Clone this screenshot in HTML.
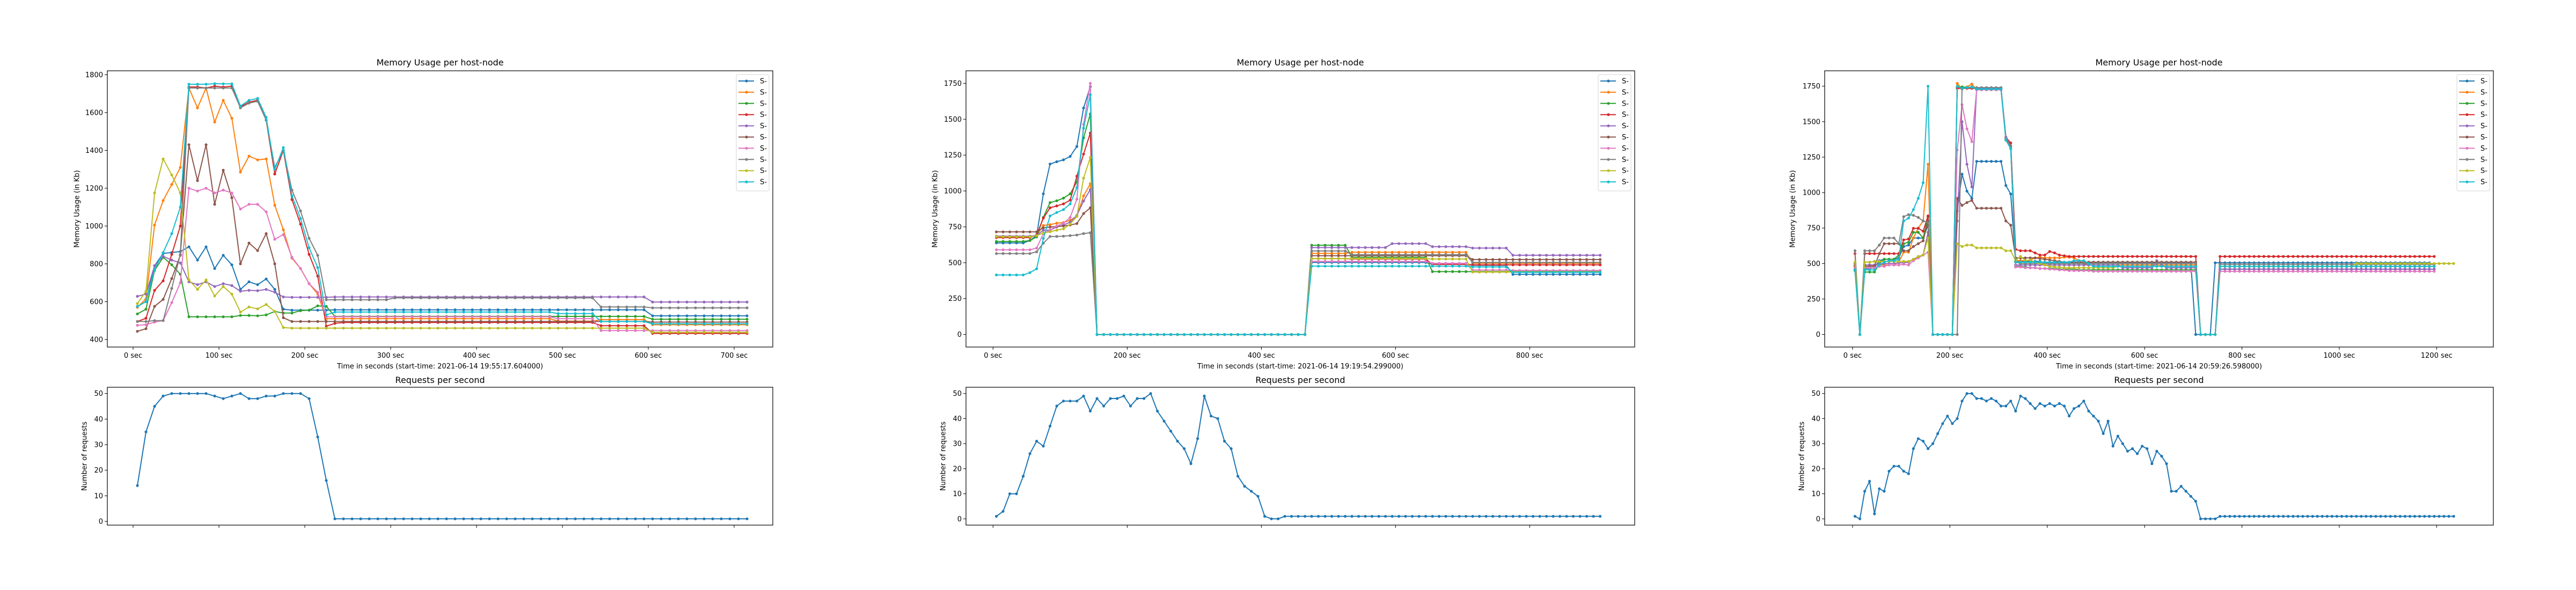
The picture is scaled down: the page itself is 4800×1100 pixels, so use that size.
<!DOCTYPE html>
<html><head><meta charset="utf-8">
<style>
html,body{margin:0;padding:0;background:#fff;}
svg{display:block;font-family:"DejaVu Sans","Liberation Sans",sans-serif;}
</style></head>
<body>
<svg id="fig" width="4800" height="1100" viewBox="0 0 4800 1100" xmlns="http://www.w3.org/2000/svg">
<rect x="0" y="0" width="4800" height="1100" fill="#fff"/>
</svg>
<script>
// ---------- Run 1 data (t = 5, 15, 25 ... sec) ----------
const mem1_s1=[575,600,790,855,860,865,890,820,890,775,845,795,665,705,690,720,665,560,555,555,555,555,555,557,557,557,557,557,557,557,557,557,557,557,557,557,557,557,557,557,557,557,557,557,557,557,557,557,557,557,557,557,557,557,557,557,557,557,557,557,525,525,525,525,525,525,525,525,525,525,525,525];
const mem1_s2=[570,615,1005,1135,1220,1310,1730,1625,1730,1550,1665,1570,1285,1370,1350,1355,1110,980,830,775,695,640,510,510,510,510,510,510,510,510,510,510,510,510,510,510,510,510,510,510,510,510,510,510,510,510,510,510,510,497,497,497,497,497,505,505,505,505,505,505,478,478,478,478,478,478,478,478,478,478,478,478];
const mem1_s3=[535,560,765,835,795,745,520,520,520,520,520,520,527,527,525,530,548,540,540,552,555,578,575,522,522,522,522,522,522,522,522,522,522,522,522,522,522,522,522,522,522,522,522,522,522,522,522,522,522,522,522,522,522,522,522,522,522,522,522,522,507,507,507,507,507,507,507,507,507,507,507,507];
const mem1_s4=[495,512,660,710,850,1000,1735,1735,1730,1740,1735,1740,1630,1655,1665,1560,1275,1400,1140,1010,850,735,470,485,490,490,490,490,490,490,490,490,490,490,490,490,490,490,490,490,490,490,490,490,490,490,490,490,490,490,490,490,490,490,473,473,473,473,473,473,432,432,432,432,432,432,432,432,432,432,432,432];
const mem1_s5=[628,640,790,840,820,805,705,690,705,680,695,685,655,660,658,665,650,625,623,623,623,623,623,625,625,625,625,625,625,625,625,625,625,625,625,625,625,625,625,625,625,625,625,625,625,625,625,625,625,625,625,625,625,625,625,625,625,625,625,625,598,598,598,598,598,598,598,598,598,598,598,598];
const mem1_s6=[443,457,575,612,722,845,1430,1240,1430,1115,1295,1150,800,910,870,960,800,515,495,495,495,495,495,495,495,495,495,495,495,495,495,495,495,495,495,495,495,495,495,495,495,495,495,495,495,495,495,495,495,495,495,495,495,495,495,495,495,495,495,495,492,492,492,492,492,492,492,492,492,492,492,492];
const mem1_s7=[475,478,492,500,595,700,1200,1185,1200,1175,1190,1175,1090,1115,1115,1075,930,955,835,775,695,650,520,520,520,520,520,520,520,520,520,520,520,520,520,520,520,520,520,520,520,520,520,520,520,520,520,520,520,510,510,510,510,510,447,447,447,447,447,447,447,447,447,447,447,447,447,447,447,447,447,447];
const mem1_s8=[495,495,500,500,670,850,1730,1730,1730,1730,1730,1730,1625,1650,1660,1560,1310,1400,1190,1080,935,845,610,610,610,610,610,610,610,610,620,620,620,620,620,620,620,620,620,620,620,620,620,620,620,620,620,620,620,620,620,620,620,620,572,572,572,572,572,572,567,567,567,567,567,567,567,567,567,567,567,567];
const mem1_s9=[590,655,1175,1355,1270,1175,715,665,715,630,680,640,545,572,562,585,548,463,460,460,460,460,460,460,460,460,460,460,460,460,460,460,460,460,460,460,460,460,460,460,460,460,460,460,460,460,460,460,460,460,460,460,460,460,460,460,460,460,460,460,438,438,438,438,438,438,438,438,438,438,438,438];
const mem1_s10=[575,600,770,860,960,1100,1750,1750,1750,1753,1752,1752,1635,1665,1675,1575,1300,1415,1160,1040,885,780,530,545,545,545,545,545,545,545,545,545,545,545,545,545,545,545,545,545,545,545,545,545,545,545,545,545,545,537,537,537,537,537,495,495,495,495,495,495,483,483,483,483,483,483,483,483,483,483,483,483];
const req1=[14,35,45,49,50,50,50,50,50,49,48,49,50,48,48,49,49,50,50,50,48,33,16,1,1,1,1,1,1,1,1,1,1,1,1,1,1,1,1,1,1,1,1,1,1,1,1,1,1,1,1,1,1,1,1,1,1,1,1,1,1,1,1,1,1,1,1,1,1,1,1,1];

// ---------- Run 2 data ----------
const mem2_s1=[638,638,638,638,638,655,690,980,1188,1204,1217,1241,1310,1578,1727,0,0,0,0,0,0,0,0,0,0,0,0,0,0,0,0,0,0,0,0,0,0,0,0,0,0,0,0,0,0,0,0,502,502,502,502,502,502,502,502,502,502,502,502,502,502,502,502,502,502,489,489,489,489,489,489,482,482,482,482,482,482,419,419,419,419,419,419,419,419,419,419,419,419,419,419];
const mem2_s2=[681,681,681,681,681,681,690,760,765,776,780,796,823,966,1050,0,0,0,0,0,0,0,0,0,0,0,0,0,0,0,0,0,0,0,0,0,0,0,0,0,0,0,0,0,0,0,0,565,565,565,565,565,565,573,573,573,573,573,573,573,573,573,573,573,573,573,573,573,573,573,573,496,496,496,496,496,496,496,496,496,496,496,496,496,496,496,496,496,496,496,496];
const mem2_s3=[648,648,648,648,648,655,680,816,919,932,950,980,1063,1370,1537,0,0,0,0,0,0,0,0,0,0,0,0,0,0,0,0,0,0,0,0,0,0,0,0,0,0,0,0,0,0,0,0,622,622,622,622,622,622,538,538,538,538,538,538,538,538,538,538,538,538,438,438,438,438,438,438,438,438,438,438,438,438,438,438,438,438,438,438,438,438,438,438,438,438,438,438];
const mem2_s4=[675,675,675,675,675,675,695,810,883,896,910,936,1103,1257,1404,0,0,0,0,0,0,0,0,0,0,0,0,0,0,0,0,0,0,0,0,0,0,0,0,0,0,0,0,0,0,0,0,529,529,529,529,529,529,526,526,526,526,526,526,526,526,526,526,526,526,489,489,489,489,489,489,485,485,485,485,485,485,485,485,485,485,485,485,485,485,485,485,485,485,485,485];
const mem2_s5=[685,685,685,685,685,685,690,727,727,749,763,783,830,930,1010,0,0,0,0,0,0,0,0,0,0,0,0,0,0,0,0,0,0,0,0,0,0,0,0,0,0,0,0,0,0,0,0,606,606,606,606,606,606,606,606,606,606,606,606,633,633,633,633,633,633,612,612,612,612,612,612,602,602,602,602,602,602,552,552,552,552,552,552,552,552,552,552,552,552,552,552];
const mem2_s6=[715,715,715,715,715,715,715,743,749,752,756,763,773,843,883,0,0,0,0,0,0,0,0,0,0,0,0,0,0,0,0,0,0,0,0,0,0,0,0,0,0,0,0,0,0,0,0,549,549,549,549,549,549,549,549,549,549,549,549,549,549,549,549,549,549,549,549,549,549,549,549,522,522,522,522,522,522,522,522,522,522,522,522,522,522,522,522,522,522,522,522];
const mem2_s7=[590,590,590,590,590,590,602,703,729,756,776,816,943,1464,1750,0,0,0,0,0,0,0,0,0,0,0,0,0,0,0,0,0,0,0,0,0,0,0,0,0,0,0,0,0,0,0,0,509,509,509,509,509,509,509,509,509,509,509,509,509,509,509,509,509,509,496,496,496,496,496,496,449,449,449,449,449,449,446,446,446,446,446,446,446,446,446,446,446,446,446,446];
const mem2_s8=[564,564,564,564,564,564,576,636,683,683,685,689,693,703,709,0,0,0,0,0,0,0,0,0,0,0,0,0,0,0,0,0,0,0,0,0,0,0,0,0,0,0,0,0,0,0,0,582,582,582,582,582,582,556,556,556,556,556,556,556,556,556,556,556,556,556,556,556,556,556,556,502,502,502,502,502,502,502,502,502,502,502,502,502,502,502,502,502,502,502,502];
const mem2_s9=[681,681,681,681,681,681,689,707,716,727,736,769,823,1090,1233,0,0,0,0,0,0,0,0,0,0,0,0,0,0,0,0,0,0,0,0,0,0,0,0,0,0,0,0,0,0,0,0,529,529,529,529,529,529,529,529,529,529,529,529,529,529,529,529,529,529,526,526,526,526,526,526,435,435,435,435,435,435,435,435,435,435,435,435,435,435,435,435,435,435,435,435];
const mem2_s10=[415,415,415,415,415,431,458,669,826,850,870,910,1023,1437,1671,0,0,0,0,0,0,0,0,0,0,0,0,0,0,0,0,0,0,0,0,0,0,0,0,0,0,0,0,0,0,0,0,476,476,476,476,476,476,476,476,476,476,476,476,476,476,476,476,476,476,476,476,476,476,476,476,471,471,471,471,471,471,433,433,433,433,433,433,433,433,433,433,433,433,433,433];
const req2=[1,3,10,10,17,26,31,29,37,45,47,47,47,49,43,48,45,48,48,49,45,48,48,50,43,39,35,31,28,22,32,49,41,40,31,28,17,13,11,9,1,0,0,1,1,1,1,1,1,1,1,1,1,1,1,1,1,1,1,1,1,1,1,1,1,1,1,1,1,1,1,1,1,1,1,1,1,1,1,1,1,1,1,1,1,1,1,1,1,1,1];

// ---------- Run 3 data ----------
const mem3_s1=[460,0,465,465,470,520,530,530,530,540,620,630,680,680,680,770,0,0,0,0,0,870,1130,1010,960,1220,1220,1220,1220,1220,1220,1050,990,510,515,515,515,515,515,505,505,505,505,505,505,505,505,505,505,505,505,505,505,505,505,505,505,505,505,505,505,505,505,505,505,505,505,505,505,505,0,0,0,0,505,505,505,505,505,505,505,505,505,505,505,505,505,505,505,505,505,505,505,505,505,505,505,505,505,505,505,505,505,505,505,505,505,505,505,505,505,505,505,505,505,505,505,505,505];
const mem3_s2=[490,0,480,480,490,490,490,490,490,510,580,580,680,750,800,1200,0,0,0,0,0,1770,1730,1745,1765,1725,1725,1725,1725,1725,1725,1390,1320,520,520,520,525,540,545,540,540,540,540,545,545,540,520,500,490,490,490,490,490,490,490,490,490,490,490,490,490,490,490,490,490,490,490,490,490,490,490,0,0,0,0,480,480,480,480,480,480,480,480,480,480,480,480,480,480,480,480,480,480,480,480,480,480,480,480,480,480,480,480,480,480,480,480,480,480,480,480,480,480,480,480,480,480,480,480,480];
const mem3_s3=[450,0,440,440,440,500,530,530,530,560,640,650,720,720,680,830,0,0,0,0,0,1740,1745,1740,1745,1725,1725,1725,1725,1725,1725,1370,1310,480,480,475,470,470,465,465,465,465,460,460,460,460,455,455,455,455,455,455,455,455,455,455,455,455,455,455,455,455,455,455,455,455,455,455,455,455,455,0,0,0,0,460,460,460,460,460,460,460,460,460,460,460,460,460,460,460,460,460,460,460,460,460,460,460,460,460,460,460,460,460,460,460,460,460,460,460,460,460,460,460,460,460,460,460,460,460];
const mem3_s4=[570,0,570,570,570,570,570,570,570,571,667,673,748,748,728,836,0,0,0,0,0,1735,1735,1735,1735,1735,1735,1735,1735,1735,1735,1390,1350,600,590,590,590,575,560,560,585,575,560,555,550,550,550,550,550,550,550,550,550,550,550,550,550,550,550,550,550,550,550,550,550,550,550,550,550,550,550,0,0,0,0,550,550,550,550,550,550,550,550,550,550,550,550,550,550,550,550,550,550,550,550,550,550,550,550,550,550,550,550,550,550,550,550,550,550,550,550,550,550,550,550,550,550,550,550,550];
const mem3_s5=[500,0,490,490,490,495,500,500,500,505,505,510,530,540,560,720,0,0,0,0,0,800,1500,1200,1040,1735,1735,1735,1735,1735,1735,1390,1330,490,490,490,490,490,490,490,490,490,490,490,490,490,490,490,490,490,490,490,490,490,490,470,470,470,470,470,470,470,520,490,470,470,470,470,470,470,470,0,0,0,0,460,460,460,460,460,460,460,460,460,460,460,460,460,460,460,460,460,460,460,460,460,460,460,460,460,460,460,460,460,460,460,460,460,460,460,460,460,460,460,460,460,460,460,460,460];
const mem3_s6=[480,0,480,480,480,570,640,640,640,640,590,590,620,640,660,800,0,0,0,0,0,960,910,930,945,890,890,890,890,890,890,800,770,540,540,540,540,540,535,530,525,520,515,510,510,510,510,510,510,510,510,510,510,510,510,510,510,510,510,510,510,510,510,510,510,510,510,510,510,510,510,0,0,0,0,480,480,480,480,480,480,480,480,480,480,480,480,480,480,480,480,480,480,480,480,480,480,480,480,480,480,480,480,480,480,480,480,480,480,480,480,480,480,480,480,480,480,480,480,480];
const mem3_s7=[470,0,470,470,470,480,480,490,490,490,495,490,520,540,560,580,0,0,0,0,0,1300,1620,1450,1360,1725,1725,1725,1725,1725,1725,1370,1310,475,475,470,470,470,465,465,460,460,455,455,450,450,450,450,450,445,445,445,445,445,445,445,445,445,445,445,445,445,445,445,445,445,445,445,445,445,445,0,0,0,0,445,445,445,445,445,445,445,445,445,445,445,445,445,445,445,445,445,445,445,445,445,445,445,445,445,445,445,445,445,445,445,445,445,445,445,445,445,445,445,445,445,445,445,445,445];
const mem3_s8=[590,0,590,590,590,630,680,680,680,640,830,845,840,825,800,790,0,0,0,0,0,0,1735,1740,1740,1740,1740,1740,1740,1740,1740,1380,1330,510,500,500,500,500,500,500,500,500,500,500,500,500,500,500,500,500,500,500,500,500,500,500,500,500,500,500,500,500,500,500,500,500,500,500,500,500,500,0,0,0,0,495,495,495,495,495,495,495,495,495,495,495,495,495,495,495,495,495,495,495,495,495,495,495,495,495,495,495,495,495,495,495,495,495,495,495,495,495,495,495,495,495,495,495,495,495];
const mem3_s9=[510,0,510,510,515,515,515,515,515,515,515,515,530,550,560,680,0,0,0,0,0,640,620,630,630,610,610,610,610,610,610,590,590,520,550,520,525,510,500,490,480,475,475,470,470,470,470,470,470,470,470,470,470,470,480,480,480,480,480,480,480,480,480,480,480,480,480,480,480,480,480,0,0,0,0,480,480,480,480,480,480,480,480,480,480,480,480,480,480,480,480,480,480,480,480,480,480,480,480,480,480,480,480,500,500,500,500,500,500,500,500,500,500,500,500,500,500,500,500,500,500,500,500,500];
const mem3_s10=[455,0,455,455,455,490,510,520,520,530,800,820,880,960,1070,1750,0,0,0,0,0,1750,1735,1740,1745,1730,1730,1730,1730,1730,1730,1370,1310,510,510,510,510,510,510,510,510,510,510,510,510,520,520,520,500,480,480,480,480,480,480,480,480,480,480,480,480,480,480,480,480,480,480,480,480,480,480,0,0,0,0,480,480,480,480,480,480,480,480,480,480,480,480,480,480,480,480,480,480,480,480,480,480,480,480,480,480,480,480,480,480,480,480,480,480,480,480,480,480,480,480,480,480,480,480,480];
const req3=[1,0,11,15,2,12,11,19,21,21,19,18,28,32,31,28,30,34,38,41,38,40,47,50,50,48,48,47,48,47,45,45,47,43,49,48,46,44,46,45,46,45,46,45,41,44,45,47,43,41,39,34,39,29,33,30,27,28,26,29,28,22,27,25,22,11,11,13,11,9,7,0,0,0,0,1,1,1,1,1,1,1,1,1,1,1,1,1,1,1,1,1,1,1,1,1,1,1,1,1,1,1,1,1,1,1,1,1,1,1,1,1,1,1,1,1,1,1,1,1,1,1,1,1];

// ---------- axis config ----------
const sampleStart = 5, sampleStep = 10;
const seriesColors=["#1f77b4","#ff7f0e","#2ca02c","#d62728","#9467bd","#8c564b","#e377c2","#7f7f7f","#bcbd22","#17becf"];
const startTimes=["2021-06-14 19:55:17.604000","2021-06-14 19:19:54.299000","2021-06-14 20:59:26.598000"];
const xTicks1=[0,100,200,300,400,500,600,700];
const xTicks2=[0,200,400,600,800];
const xTicks3=[0,200,400,600,800,1000,1200];
const memTicks1=[400,600,800,1000,1200,1400,1600,1800];
const memTicks23=[0,250,500,750,1000,1250,1500,1750];
const reqTicks=[0,10,20,30,40,50];

const NS="http://www.w3.org/2000/svg";
const svg=document.getElementById('fig');
function el(tag,parent){const e=document.createElementNS(NS,tag);parent.appendChild(e);return e;}
function txt(parent,x,y,s,size,anchor){const t=el('text',parent);t.setAttribute('x',x);t.setAttribute('y',y);t.setAttribute('font-size',size);t.setAttribute('text-anchor',anchor||'middle');t.setAttribute('fill','#000');t.textContent=s;return t;}

const panels=[
 {l:200,r:1440,xlim:[-30,745],xt:xTicks1,mem:[mem1_s1,mem1_s2,mem1_s3,mem1_s4,mem1_s5,mem1_s6,mem1_s7,mem1_s8,mem1_s9,mem1_s10],mlim:[360,1821],mt:memTicks1,req:req1,rlim:[-1.45,52.45],ylabX:143,rlabX:157},
 {l:1800,r:3046,xlim:[-40.3,956.5],xt:xTicks2,mem:[mem2_s1,mem2_s2,mem2_s3,mem2_s4,mem2_s5,mem2_s6,mem2_s7,mem2_s8,mem2_s9,mem2_s10],mlim:[-87.5,1837.5],mt:memTicks23,req:req2,rlim:[-2.5,52.5],ylabX:1742,rlabX:1757},
 {l:3400,r:4646,xlim:[-57.3,1316.5],xt:xTicks3,mem:[mem3_s1,mem3_s2,mem3_s3,mem3_s4,mem3_s5,mem3_s6,mem3_s7,mem3_s8,mem3_s9,mem3_s10],mlim:[-88.5,1858.5],mt:memTicks23,req:req3,rlim:[-2.5,52.5],ylabX:3340,rlabX:3357}
];
const MT=132,MB=647,RT=722,RB=979;

panels.forEach((p,pi)=>{
  const sx=v=>p.l+(v-p.xlim[0])/(p.xlim[1]-p.xlim[0])*(p.r-p.l);
  const my=v=>MB-(v-p.mlim[0])/(p.mlim[1]-p.mlim[0])*(MB-MT);
  const ry=v=>RB-(v-p.rlim[0])/(p.rlim[1]-p.rlim[0])*(RB-RT);
  const g=el('g',svg);
  
  

  // ===== memory chart =====
  const mg=el('g',g);
  
  
  const mt=txt(mg,(p.l+p.r)/2,122,'Memory Usage per host-node',16);
  
  
  p.mt.forEach(v=>{
    const y=my(v);
    const tk=el('line',mg);tk.setAttribute('x1',p.l-5);tk.setAttribute('x2',p.l);tk.setAttribute('y1',y);tk.setAttribute('y2',y);tk.setAttribute('stroke','#000');tk.setAttribute('stroke-width','1');
    
    
    const t=txt(mg,p.l-8,y+4.5,String(v),13,'end');
    
    
  });
  p.xt.forEach(v=>{
    const x=sx(v);
    const tk=el('line',mg);tk.setAttribute('x1',x);tk.setAttribute('x2',x);tk.setAttribute('y1',MB);tk.setAttribute('y2',MB+5);tk.setAttribute('stroke','#000');tk.setAttribute('stroke-width','1');
    
    
    const t=txt(mg,x,667,v+' sec',13);
    
    
  });
  const xl=txt(mg,(p.l+p.r)/2,687,'Time in seconds (start-time: '+startTimes[pi]+')',13);
  
  
  const yl=txt(mg,0,0,'Memory Usage (in Kb)',13);
  yl.setAttribute('transform','translate('+(p.ylabX+4.5)+','+((MT+MB)/2)+') rotate(-90)');
  
  
  p.mem.forEach((arr,si)=>{
    const sg=el('g',mg);
    
    
    const pts=arr.map((v,i)=>sx(sampleStart+sampleStep*i).toFixed(1)+','+my(v).toFixed(1)).join(' ');
    const pl=el('polyline',sg);pl.setAttribute('points',pts);pl.setAttribute('fill','none');pl.setAttribute('stroke',seriesColors[si]);pl.setAttribute('stroke-width','2');pl.setAttribute('stroke-linejoin','round');
    
    
    arr.forEach((v,i)=>{
      const c=el('circle',sg);c.setAttribute('cx',sx(sampleStart+sampleStep*i).toFixed(1));c.setAttribute('cy',my(v).toFixed(1));c.setAttribute('r','2.6');c.setAttribute('fill',seriesColors[si]);
      
      
    });
  });
  const fr=el('rect',mg);fr.setAttribute('x',p.l);fr.setAttribute('y',MT);fr.setAttribute('width',p.r-p.l);fr.setAttribute('height',MB-MT);fr.setAttribute('fill','none');fr.setAttribute('stroke','#000');fr.setAttribute('stroke-width','1.2');
  
  
  // legend
  const lg=el('g',mg);
  
  
  const lx=p.r-68, ly=139;
  const lb=el('rect',lg);lb.setAttribute('x',lx);lb.setAttribute('y',ly);lb.setAttribute('width',61);lb.setAttribute('height',217);lb.setAttribute('rx',3);lb.setAttribute('fill','#fff');lb.setAttribute('fill-opacity','0.8');lb.setAttribute('stroke','#d6d6d6');lb.setAttribute('stroke-width','1');
  
  
  seriesColors.forEach((c,si)=>{
    const y=ly+12+si*20.9;
    const eg=el('g',lg);
    
    
    const ln=el('line',eg);ln.setAttribute('x1',lx+4);ln.setAttribute('x2',lx+33);ln.setAttribute('y1',y);ln.setAttribute('y2',y);ln.setAttribute('stroke',c);ln.setAttribute('stroke-width','2');
    const mk=el('circle',eg);mk.setAttribute('cx',lx+19);mk.setAttribute('cy',y);mk.setAttribute('r','2.6');mk.setAttribute('fill',c);
    txt(eg,lx+44,y+4.5,'S-',13,'start');
  });

  // ===== requests chart =====
  const rg=el('g',g);
  
  
  const rt=txt(rg,(p.l+p.r)/2,714,'Requests per second',16);
  
  
  reqTicks.forEach(v=>{
    const y=ry(v);
    const tk=el('line',rg);tk.setAttribute('x1',p.l-5);tk.setAttribute('x2',p.l);tk.setAttribute('y1',y);tk.setAttribute('y2',y);tk.setAttribute('stroke','#000');tk.setAttribute('stroke-width','1');
    
    
    const t=txt(rg,p.l-8,y+4.5,String(v),13,'end');
    
    
  });
  p.xt.forEach(v=>{
    const x=sx(v);
    const tk=el('line',rg);tk.setAttribute('x1',x);tk.setAttribute('x2',x);tk.setAttribute('y1',RB);tk.setAttribute('y2',RB+5);tk.setAttribute('stroke','#000');tk.setAttribute('stroke-width','1');
    
    
  });
  const ryl=txt(rg,0,0,'Number of requests',13);
  ryl.setAttribute('transform','translate('+(p.rlabX+4.5)+','+((RT+RB)/2)+') rotate(-90)');
  
  
  const rs=el('g',rg);
  
  
  const rpts=p.req.map((v,i)=>sx(sampleStart+sampleStep*i).toFixed(1)+','+ry(v).toFixed(1)).join(' ');
  const rl=el('polyline',rs);rl.setAttribute('points',rpts);rl.setAttribute('fill','none');rl.setAttribute('stroke',seriesColors[0]);rl.setAttribute('stroke-width','2');rl.setAttribute('stroke-linejoin','round');
  
  
  p.req.forEach((v,i)=>{
    const c=el('circle',rs);c.setAttribute('cx',sx(sampleStart+sampleStep*i).toFixed(1));c.setAttribute('cy',ry(v).toFixed(1));c.setAttribute('r','2.6');c.setAttribute('fill',seriesColors[0]);
    
    
  });
  const rf=el('rect',rg);rf.setAttribute('x',p.l);rf.setAttribute('y',RT);rf.setAttribute('width',p.r-p.l);rf.setAttribute('height',RB-RT);rf.setAttribute('fill','none');rf.setAttribute('stroke','#000');rf.setAttribute('stroke-width','1.2');
  
  
});
</script>
</body></html>
